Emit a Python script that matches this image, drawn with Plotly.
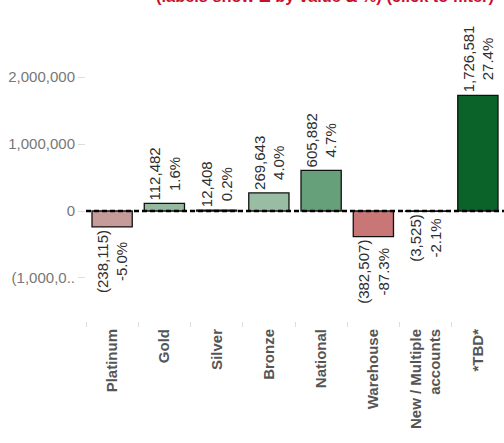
import plotly.graph_objects as go

categories = ["Platinum", "Gold", "Silver", "Bronze", "National", "Warehouse",
              "New / Multiple<br>accounts", "*TBD*"]
delta_values = [-238115, 112482, 12408, 269643, 605882, -382507, -3525, 1726581]
delta_labels = ["(238,115)", "112,482", "12,408", "269,643", "605,882", "(382,507)", "(3,525)", "1,726,581"]
pct_labels = ["-5.0%", "1.6%", "0.2%", "4.0%", "4.7%", "-87.3%", "-2.1%", "27.4%"]
bar_colors = ["#c89b9b", "#93b99e", "#a4c6ad", "#98bda2", "#66a07a", "#c87676", "#cf8a8a", "#0b6329"]
y_tickvals = [-1000000, 0, 1000000, 2000000]
y_ticktext = ["(1,000,0..", "0", "1,000,000", "2,000,000"]
title_text = "(labels show \u0394 by value & %) (click to filter)"

texts = [f"{a}<br>{b}" for a, b in zip(delta_labels, pct_labels)]

fig = go.Figure()
fig.add_trace(go.Bar(
    x=categories, y=delta_values,
    marker=dict(color=bar_colors, line=dict(color="#111111", width=1.3)),
    text=texts, textposition="outside", textangle=-90,
    constraintext="none", cliponaxis=False,
    textfont=dict(family="Arial, Liberation Sans, sans-serif", size=15, color="#2e2e2e"),
    hoverinfo="skip",
))

fig.add_shape(type="line", xref="paper", yref="y", x0=0, x1=1, y0=0, y1=0,
              line=dict(color="black", width=2.5, dash="5px,3px"), layer="above")

fig.add_annotation(text="<b>" + title_text + "</b>", xref="paper", yref="paper", x=1.0, xanchor="right",
                   xshift=-8, y=1, yanchor="bottom", yshift=13, showarrow=False,
                   font=dict(family="Arial, Liberation Sans, sans-serif", size=16.4, color="#c8102e"),
                   )

fig.update_layout(
    width=504, height=443,
    margin=dict(l=86, r=0, t=20, b=122),
    paper_bgcolor="white", plot_bgcolor="white",
    bargap=0.23, showlegend=False,
    font=dict(family="Arial, Liberation Sans, sans-serif"),
)
fig.update_xaxes(
    type="category", tickangle=-90, tickson="boundaries", ticks="outside", ticklen=5,
    tickcolor="#dddddd", showgrid=False, showline=False, zeroline=False,
    ticklabelstandoff=4,
    tickfont=dict(family="Arial, Liberation Sans, sans-serif", size=15, color="#555555", weight="bold"),
)
fig.update_yaxes(
    range=[-1642000, 2851000], tickvals=y_tickvals, ticktext=y_ticktext,
    ticks="outside", ticklen=7, tickcolor="#dddddd", showgrid=False, showline=False,
    zeroline=False,
    tickfont=dict(family="Arial, Liberation Sans, sans-serif", size=15, color="#777777"),
)

fig.write_html("out.html")
